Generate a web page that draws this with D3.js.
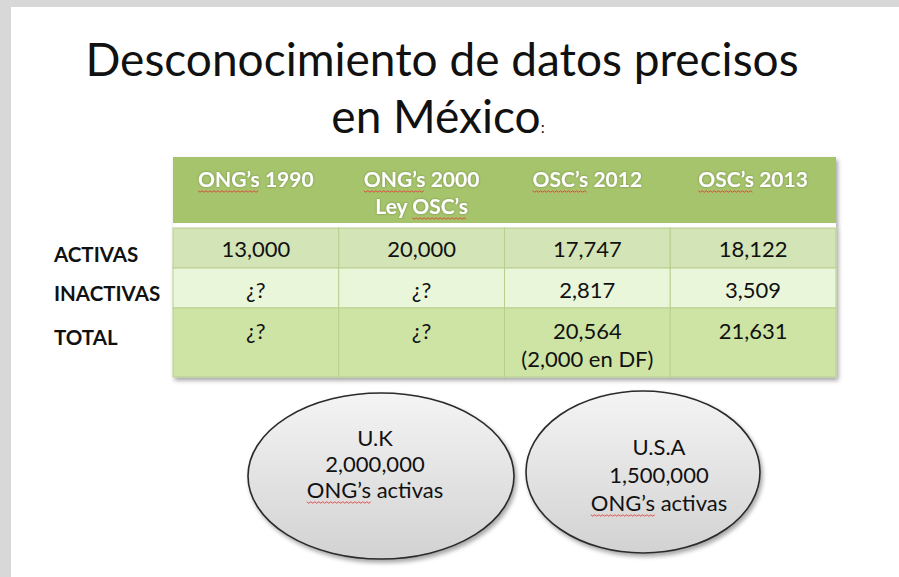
<!DOCTYPE html>
<html>
<head>
<meta charset="utf-8">
<script src="https://cdn.jsdelivr.net/npm/d3@7"></script>
<style>
  html, body { margin: 0; padding: 0; background: #d9d9d9; }
  svg { display: block; }
  text { font-family: Lato, "Open Sans", sans-serif; }
</style>
</head>
<body>
<div id="chart"></div>
<script>
// --- data ---
var headerLines = [["ONG’s 1990"], ["ONG’s 2000", "Ley OSC’s"], ["OSC’s 2012"], ["OSC’s 2013"]];
var rowLabels = ["ACTIVAS", "INACTIVAS", "TOTAL"];
var activas = [13000, 20000, 17747, 18122];
var inactivas = [null, null, 2817, 3509];
var total = [null, null, 20564, 21631];
var totalNotes = ["", "", "(2,000 en DF)", ""];
var countries = ["U.K", "U.S.A"];
var countryOngs = [2000000, 1500000];
var countryNote = "ONG’s activas";

var W = 899, H = 577;
var fmt = d3.format(",");
function show(v) { return v == null ? "¿?" : fmt(v); }

var svg = d3.select("#chart").append("svg").attr("width", W).attr("height", H);
var defs = svg.append("defs");

var sh = defs.append("filter").attr("id", "shadow").attr("x", "-5%").attr("y", "-5%").attr("width", "115%").attr("height", "120%");
sh.append("feDropShadow").attr("dx", 2).attr("dy", 3).attr("stdDeviation", 2).attr("flood-color", "#000").attr("flood-opacity", 0.35);

var glow = defs.append("filter").attr("id", "glow");
glow.append("feDropShadow").attr("dx", 0).attr("dy", 0).attr("stdDeviation", 0.8).attr("flood-color", "#4a5a2a").attr("flood-opacity", 0.6);

var grad = defs.append("linearGradient").attr("id", "ellGrad").attr("x1", 0).attr("y1", 0).attr("x2", 0).attr("y2", 1);
grad.append("stop").attr("offset", "0%").attr("stop-color", "#f4f4f4");
grad.append("stop").attr("offset", "100%").attr("stop-color", "#d2d2d2");

// slide background
svg.append("rect").attr("width", W).attr("height", H).attr("fill", "#d8d8d8");
svg.append("rect").attr("x", 11).attr("y", 7).attr("width", W - 11).attr("height", H - 7).attr("fill", "#ffffff");

// title
var title = svg.append("text").attr("text-anchor", "middle").attr("fill", "#111");
title.append("tspan").attr("x", 442).attr("y", 76).attr("font-size", 46).text("Desconocimiento de datos precisos");
var t2 = svg.append("text").attr("x", 438).attr("y", 133).attr("text-anchor", "middle").attr("fill", "#111");
t2.append("tspan").attr("font-size", 46).text("en México");
t2.append("tspan").attr("font-size", 16).text(":");

// table
var x = d3.scaleBand().domain(d3.range(headerLines.length)).range([173, 836]);
var rows = [activas, inactivas, total];
var rowTop = [228, 268, 308], rowH = [40, 40, 69];
var rowFill = ["#d3e4b6", "#eaf6da", "#cee4a5"];
var headTop = 157, headH = 66;

var table = svg.append("g").attr("filter", "url(#shadow)");
table.append("rect").attr("x", x.range()[0]).attr("y", headTop)
  .attr("width", x.range()[1] - x.range()[0]).attr("height", rowTop[2] + rowH[2] - headTop).attr("fill", "#fff");
table.append("rect").attr("x", x.range()[0]).attr("y", headTop)
  .attr("width", x.range()[1] - x.range()[0]).attr("height", headH).attr("fill", "#a6c46c");

rows.forEach(function (vals, r) {
  table.selectAll(null).data(vals).enter().append("rect")
    .attr("x", function (d, i) { return x(i); })
    .attr("y", rowTop[r])
    .attr("width", x.bandwidth())
    .attr("height", rowH[r])
    .attr("fill", rowFill[r])
    .attr("stroke", "#b7cf8e").attr("stroke-width", 1);
});

var squiggles = [];

// header text
headerLines.forEach(function (lines, i) {
  lines.forEach(function (ln, k) {
    var t = svg.append("text").attr("x", x(i) + x.bandwidth() / 2).attr("y", 187 + k * 27)
      .attr("text-anchor", "middle").attr("font-size", 21).attr("font-weight", "bold")
      .attr("fill", "#fff").attr("filter", "url(#glow)").text(ln);
    squiggles.push(t);
  });
});

// body values
var valBase = [257, 298, 339];
rows.forEach(function (vals, r) {
  svg.selectAll(null).data(vals).enter().append("text")
    .attr("x", function (d, i) { return x(i) + x.bandwidth() / 2; })
    .attr("y", valBase[r])
    .attr("text-anchor", "middle").attr("font-size", 22).attr("fill", "#111")
    .text(show);
});
svg.selectAll(null).data(totalNotes).enter().append("text")
  .attr("x", function (d, i) { return x(i) + x.bandwidth() / 2; })
  .attr("y", 367)
  .attr("text-anchor", "middle").attr("font-size", 22).attr("fill", "#111")
  .text(function (d) { return d; });

// row labels
var labBase = [262, 301, 345];
svg.selectAll(null).data(rowLabels).enter().append("text")
  .attr("x", 54).attr("y", function (d, i) { return labBase[i]; })
  .attr("font-size", 20.5).attr("font-weight", "bold").attr("fill", "#111")
  .text(function (d) { return d; });

// ellipses
var ell = [{ cx: 381, cy: 476, rx: 133, ry: 83 }, { cx: 643, cy: 472, rx: 117, ry: 81 }];
var eg = svg.append("g");
eg.selectAll("ellipse").data(countries).enter().append("ellipse")
  .attr("cx", function (d, i) { return ell[i].cx; })
  .attr("cy", function (d, i) { return ell[i].cy; })
  .attr("rx", function (d, i) { return ell[i].rx; })
  .attr("ry", function (d, i) { return ell[i].ry; })
  .attr("fill", "url(#ellGrad)").attr("stroke", "#2a2a2a").attr("stroke-width", 1.6)
  .attr("filter", "url(#shadow)");

var ellText = [[446, 472, 498], [455, 483, 511]];
countries.forEach(function (c, i) {
  var lines = [c, fmt(countryOngs[i]), countryNote];
  lines.forEach(function (ln, k) {
    var t = svg.append("text").attr("x", ell[i].cx - 6 + i * 22).attr("y", ellText[i][k])
      .attr("text-anchor", "middle").attr("font-size", 22).attr("fill", "#111").text(ln);
    if (k === 2) squiggles.push(t);
  });
});

// red spell-check squiggles under "ONG’s" / "OSC’s"
var wavy = d3.line().curve(d3.curveLinear);
squiggles.forEach(function (t) {
  var node = t.node();
  var s = node.textContent;
  var m = s.match(/(ONG’s|OSC’s)/);
  if (!m) return;
  var idx = s.indexOf(m[0]);
  var x0 = node.getStartPositionOfChar(idx).x;
  var w = node.getSubStringLength(idx, m[0].length);
  var yb = +t.attr("y") + 4;
  var pts = [];
  for (var xx = 0, j = 0; xx <= w; xx += 2, j++) pts.push([x0 + xx, yb + (j % 2 ? 1.2 : -0.2)]);
  svg.append("path").attr("d", wavy(pts)).attr("fill", "none").attr("stroke", "#e0403a").attr("stroke-width", 0.9);
});
</script>
</body>
</html>
